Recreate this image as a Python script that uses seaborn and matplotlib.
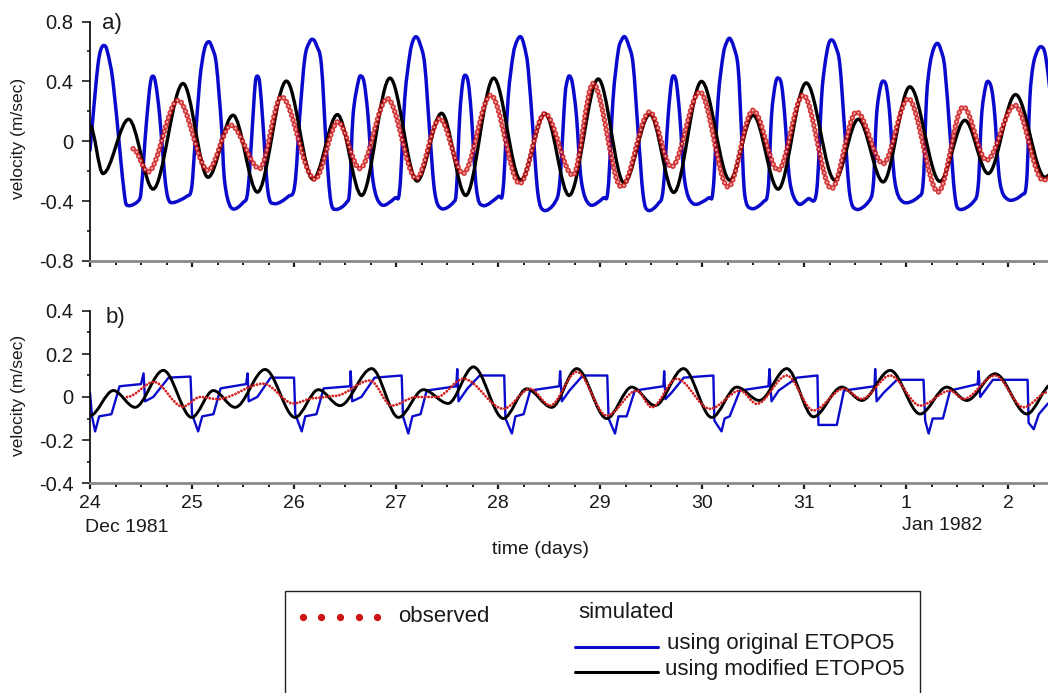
import numpy as np
import matplotlib
matplotlib.use('Agg')
import matplotlib.pyplot as plt
import matplotlib.transforms as mtransforms
from matplotlib.lines import Line2D
from matplotlib.patches import PathPatch, Rectangle
from matplotlib.path import Path
from matplotlib.ticker import MultipleLocator
import seaborn as sns

# time is in days after 24 Dec 1981 00:00
day_ticks = [0, 1, 2, 3, 4, 5, 6, 7, 8, 9]
day_labels = ['24', '25', '26', '27', '28', '29', '30', '31', '1', '2']
ya_ticks = [-0.8, -0.4, 0, 0.4, 0.8]
ya_labels = ['-0.8', '-0.4', '0', '0.4', '0.8']
yb_ticks = [-0.4, -0.2, 0, 0.2, 0.4]
yb_labels = ['-0.4', '-0.2', '0', '0.2', '0.4']

# a) simulated, original ETOPO5 (read off the figure)
orig_a = [
    (0.00, -0.06), (0.046, 0.29), (0.078, 0.51), (0.105, 0.61), (0.137, 0.64), (0.17, 0.60),
    (0.225, 0.40), (0.291, -0.05), (0.340, -0.37), (0.373, -0.43), (0.471, -0.40), (0.503, -0.32),
    (0.55, 0.10), (0.59, 0.38), (0.618, 0.435), (0.645, 0.38), (0.683, 0.17), (0.732, -0.23),
    (0.765, -0.38), (0.814, -0.41), (0.944, -0.37), (0.994, -0.32), (1.026, -0.05), (1.075, 0.40),
    (1.12, 0.61), (1.163, 0.665), (1.20, 0.62), (1.239, 0.51), (1.288, 0.11), (1.320, -0.27),
    (1.386, -0.446), (1.500, -0.41), (1.549, -0.32), (1.598, 0.17), (1.62, 0.39), (1.641, 0.435),
    (1.665, 0.38), (1.696, 0.11), (1.745, -0.34), (1.810, -0.417), (1.941, -0.37), (2.007, -0.295),
    (2.056, 0.17), (2.105, 0.553), (2.15, 0.66), (2.186, 0.68), (2.22, 0.64), (2.268, 0.51),
    (2.317, -0.05), (2.36, -0.40), (2.415, -0.455), (2.513, -0.41), (2.546, -0.32), (2.578, 0.17),
    (2.63, 0.40), (2.660, 0.435), (2.69, 0.38), (2.725, 0.17), (2.775, -0.27), (2.856, -0.424),
    (2.987, -0.38), (3.036, -0.32), (3.085, 0.285), (3.134, 0.575), (3.165, 0.67), (3.199, 0.698),
    (3.235, 0.65), (3.281, 0.51), (3.330, 0.06), (3.379, -0.34), (3.444, -0.45), (3.559, -0.41),
    (3.592, -0.32), (3.624, 0.17), (3.655, 0.40), (3.683, 0.44), (3.71, 0.38), (3.739, 0.17),
    (3.788, -0.32), (3.853, -0.43), (4.000, -0.37), (4.049, -0.32), (4.098, 0.285), (4.147, 0.575),
    (4.185, 0.67), (4.222, 0.698), (4.255, 0.64), (4.294, 0.49), (4.343, 0.06), (4.392, -0.36),
    (4.451, -0.462), (4.556, -0.41), (4.605, -0.27), (4.654, 0.285), (4.68, 0.41), (4.703, 0.435),
    (4.73, 0.38), (4.768, 0.17), (4.817, -0.27), (4.899, -0.424), (5.029, -0.38), (5.078, -0.32),
    (5.127, 0.285), (5.177, 0.60), (5.21, 0.675), (5.242, 0.698), (5.28, 0.64), (5.324, 0.51),
    (5.373, 0.06), (5.422, -0.36), (5.471, -0.462), (5.569, -0.417), (5.618, -0.32), (5.667, 0.17),
    (5.70, 0.40), (5.726, 0.435), (5.75, 0.38), (5.781, 0.17), (5.830, -0.27), (5.912, -0.417),
    (6.059, -0.38), (6.108, -0.32), (6.157, 0.285), (6.206, 0.575), (6.24, 0.66), (6.271, 0.687),
    (6.31, 0.63), (6.353, 0.49), (6.386, 0.06), (6.418, -0.36), (6.484, -0.45), (6.598, -0.406),
    (6.647, -0.32), (6.680, 0.17), (6.72, 0.39), (6.752, 0.42), (6.78, 0.37), (6.810, 0.17),
    (6.860, -0.27), (6.941, -0.417), (7.039, -0.384), (7.121, -0.34), (7.170, 0.286), (7.203, 0.51),
    (7.24, 0.65), (7.275, 0.676), (7.31, 0.63), (7.350, 0.51), (7.399, 0.06), (7.448, -0.36),
    (7.513, -0.455), (7.628, -0.406), (7.677, -0.295), (7.709, 0.17), (7.75, 0.37), (7.784, 0.40),
    (7.81, 0.35), (7.840, 0.17), (7.889, -0.27), (7.971, -0.406), (8.118, -0.373), (8.167, -0.27),
    (8.199, 0.286), (8.232, 0.51), (8.27, 0.62), (8.307, 0.654), (8.34, 0.61), (8.379, 0.486),
    (8.428, 0.06), (8.477, -0.36), (8.526, -0.455), (8.657, -0.406), (8.706, -0.295), (8.739, 0.17),
    (8.78, 0.37), (8.810, 0.397), (8.84, 0.34), (8.869, 0.17), (8.918, -0.27), (9.000, -0.39),
    (9.131, -0.36), (9.180, -0.27), (9.212, 0.286), (9.245, 0.51), (9.29, 0.61), (9.327, 0.631),
    (9.36, 0.59), (9.392, 0.44), (9.43, 0.20),
]

# a) simulated, modified ETOPO5: turning points
mod_a = [
    (0.0, 0.107), (0.127, -0.216), (0.379, 0.147), (0.618, -0.32), (0.912, 0.386), (1.157, -0.241),
    (1.402, 0.174), (1.641, -0.34), (1.925, 0.402), (2.186, -0.254), (2.425, 0.178), (2.662, -0.362),
    (2.94, 0.422), (3.206, -0.266), (3.446, 0.187), (3.683, -0.362), (3.957, 0.422), (4.222, -0.26),
    (4.46, 0.185), (4.696, -0.362), (4.982, 0.416), (5.235, -0.278), (5.488, 0.18), (5.722, -0.342),
    (5.994, 0.40), (6.271, -0.26), (6.50, 0.174), (6.745, -0.32), (7.02, 0.39), (7.30, -0.26),
    (7.53, 0.147), (7.774, -0.272), (8.036, 0.364), (8.33, -0.268), (8.575, 0.14), (8.804, -0.216),
    (9.072, 0.312), (9.36, -0.24), (9.45, -0.2),
]

# a) observed: turning points
obs_a = [
    (0.422, -0.05), (0.569, -0.205), (0.863, 0.274), (1.157, -0.194), (1.379, 0.107), (1.663, -0.183),
    (1.876, 0.297), (2.203, -0.254), (2.431, 0.13), (2.644, -0.183), (2.915, 0.285), (3.199, -0.25),
    (3.428, 0.152), (3.657, -0.216), (3.928, 0.308), (4.212, -0.283), (4.458, 0.185), (4.735, -0.228),
    (4.931, 0.386), (5.209, -0.306), (5.487, 0.196), (5.70, -0.172), (5.977, 0.33), (6.255, -0.306),
    (6.50, 0.207), (6.745, -0.194), (6.99, 0.308), (7.268, -0.317), (7.513, 0.196), (7.774, -0.15),
    (8.02, 0.285), (8.314, -0.339), (8.559, 0.23), (8.788, -0.127), (9.065, 0.241), (9.343, -0.261),
    (9.42, -0.24),
]

# b) simulated, original ETOPO5
orig_b = [
    (0.0, 0.02), (0.02, -0.09), (0.05, -0.16), (0.09, -0.09), (0.21, -0.08), (0.29, 0.05),
    (0.50, 0.06), (0.525, 0.11), (0.54, -0.02), (0.62, 0.0), (0.77, 0.09), (0.985, 0.095),
    (1.0, -0.08), (1.06, -0.16), (1.10, -0.09), (1.21, -0.08), (1.28, 0.04), (1.53, 0.06),
    (1.545, 0.11), (1.555, -0.02), (1.64, 0.0), (1.77, 0.09), (2.0, 0.09), (2.012, -0.08),
    (2.075, -0.16), (2.11, -0.09), (2.22, -0.08), (2.29, 0.04), (2.55, 0.05), (2.555, 0.12),
    (2.57, -0.02), (2.66, 0.0), (2.79, 0.09), (3.055, 0.1), (3.068, -0.09), (3.12, -0.17),
    (3.16, -0.09), (3.24, -0.08), (3.30, 0.03), (3.59, 0.05), (3.60, 0.13), (3.612, -0.02),
    (3.70, 0.04), (3.82, 0.1), (4.06, 0.1), (4.072, -0.1), (4.135, -0.17), (4.17, -0.09),
    (4.25, -0.08), (4.315, 0.03), (4.60, 0.05), (4.608, 0.12), (4.625, -0.02), (4.70, 0.03),
    (4.83, 0.1), (5.07, 0.1), (5.083, -0.1), (5.146, -0.17), (5.18, -0.09), (5.26, -0.09),
    (5.34, 0.03), (5.62, 0.05), (5.628, 0.12), (5.64, -0.01), (5.70, 0.02), (5.82, 0.09),
    (6.11, 0.1), (6.12, -0.11), (6.19, -0.16), (6.22, -0.10), (6.27, -0.09), (6.37, 0.03),
    (6.65, 0.05), (6.66, 0.13), (6.68, -0.02), (6.75, 0.03), (6.93, 0.09), (7.13, 0.1),
    (7.14, -0.13), (7.32, -0.13), (7.39, 0.03), (7.69, 0.05), (7.696, 0.13), (7.71, -0.02),
    (7.78, 0.02), (7.91, 0.08), (8.17, 0.08), (8.186, -0.11), (8.22, -0.17), (8.26, -0.10),
    (8.36, -0.10), (8.43, 0.03), (8.70, 0.06), (8.71, 0.12), (8.725, 0.0), (8.85, 0.08),
    (9.19, 0.08), (9.20, -0.12), (9.25, -0.15), (9.30, -0.08), (9.39, -0.03),
]

# b) simulated, modified ETOPO5: turning points
mod_b = [
    (0.0, -0.087), (0.229, 0.03), (0.441, -0.048), (0.719, 0.124), (0.997, -0.095), (1.209, 0.03),
    (1.422, -0.048), (1.716, 0.128), (2.010, -0.095), (2.239, 0.034), (2.45, -0.04), (2.761, 0.132),
    (3.023, -0.095), (3.268, 0.034), (3.51, -0.03), (3.758, 0.14), (4.052, -0.1), (4.281, 0.038),
    (4.526, -0.048), (4.771, 0.132), (5.065, -0.1), (5.31, 0.046), (5.539, -0.04), (5.817, 0.132),
    (6.094, -0.095), (6.34, 0.046), (6.56, -0.016), (6.83, 0.132), (7.091, -0.092), (7.369, 0.046),
    (7.565, -0.016), (7.843, 0.124), (8.137, -0.079), (8.398, 0.046), (8.594, -0.016), (8.872, 0.108),
    (9.183, -0.079), (9.43, 0.06),
]

# b) observed: turning points
obs_b = [
    (0.363, 0.0), (0.627, 0.07), (0.908, -0.045), (1.08, 0.0), (1.25, -0.01), (1.699, 0.062),
    (1.993, -0.03), (2.2, -0.005), (2.40, 0.005), (2.745, 0.077), (2.957, -0.04), (3.2, 0.0),
    (3.40, 0.0), (3.66, 0.085), (4.052, -0.055), (4.314, 0.038), (4.51, -0.04), (4.771, 0.117),
    (5.065, -0.087), (5.36, 0.03), (5.506, -0.048), (5.75, 0.085), (6.078, -0.055), (6.372, 0.03),
    (6.536, -0.032), (6.83, 0.1), (7.091, -0.063), (7.385, 0.038), (7.565, -0.009), (7.843, 0.1),
    (8.137, -0.04), (8.431, 0.03), (8.562, -0.009), (8.872, 0.1), (9.15, -0.048), (9.39, 0.023),
]

BLUE = '#0a0acc'
RED = '#cc1414'
TXT = '#1a1a1a'
W, H = 1048, 693

sns.set_style('ticks')
plt.rcParams['font.family'] = ['Liberation Sans', 'DejaVu Sans']
plt.rcParams['axes.unicode_minus'] = False
plt.rcParams['lines.scale_dashes'] = False


def fx(x):
    return x / W


def fy(y):
    return 1 - y / H


def wave_path(pts):
    # smooth curve through the turning points (flat at each turning point)
    verts = [pts[0]]
    codes = [Path.MOVETO]
    for (t0, v0), (t1, v1) in zip(pts[:-1], pts[1:]):
        h = (t1 - t0) / 3
        verts += [(t0 + h, v0), (t1 - h, v1), (t1, v1)]
        codes += [Path.CURVE4] * 3
    return Path(verts, codes)


def spline_path(pts):
    # rounded curve through every read point (Catmull-Rom style control points)
    p = np.asarray(pts, dtype=float)
    ext = np.vstack([p[0], p, p[-1]])
    verts = [tuple(p[0])]
    codes = [Path.MOVETO]
    for i in range(len(p) - 1):
        p0, p1, p2, p3 = ext[i], ext[i + 1], ext[i + 2], ext[i + 3]
        verts += [tuple(p1 + (p2 - p0) / 6), tuple(p2 - (p3 - p1) / 6), tuple(p2)]
        codes += [Path.CURVE4] * 3
    return Path(verts, codes)


def draw_line(ax, pts, color, lw, z):
    t, v = zip(*pts)
    sns.lineplot(x=list(t), y=list(v), ax=ax, color=color, linewidth=lw,
                 sort=False, estimator=None, zorder=z)


def draw_path(ax, path, color, lw, z):
    ax.add_patch(PathPatch(path, fill=False, edgecolor=color, linewidth=lw,
                           capstyle='round', joinstyle='round', zorder=z))


def draw_dots(ax, pts, color, lw, gap, z, alpha=1.0):
    ax.add_patch(PathPatch(wave_path(pts), fill=False, edgecolor=color, linewidth=lw,
                           linestyle=(0, (0.01, gap)), capstyle='round', alpha=alpha, zorder=z))


def style_axes(ax, yticks, ylabels, ylim, yminor, show_x):
    ax.set_xlim(0, 9.39)
    ax.set_ylim(*ylim)
    for s in ['top', 'right']:
        ax.spines[s].set_visible(False)
    ax.spines['left'].set_color('black')
    ax.spines['left'].set_linewidth(1.2)
    ax.spines['bottom'].set_color('#8a8a8a')
    ax.spines['bottom'].set_linewidth(2.0)
    ax.set_xticks(day_ticks)
    ax.set_xticklabels(day_labels if show_x else [])
    ax.xaxis.set_minor_locator(MultipleLocator(0.25))
    ax.set_yticks(yticks)
    ax.set_yticklabels(ylabels)
    ax.yaxis.set_minor_locator(MultipleLocator(yminor))
    ax.tick_params(axis='x', which='major', direction='out', length=4, width=1.6,
                   colors=TXT, labelsize=14, pad=5)
    ax.tick_params(axis='x', which='minor', direction='out', length=3, width=1.4, color=TXT)
    ax.tick_params(axis='y', which='major', direction='out', length=6, width=1.2,
                   colors=TXT, labelsize=14.5, pad=6)
    ax.tick_params(axis='y', which='minor', direction='out', length=2.5, width=1.2, color=TXT)
    ax.set_xlabel('')
    ax.set_ylabel('')
    ax.set_facecolor('white')


fig = plt.figure(figsize=(10.48, 6.93), dpi=100)
fig.patch.set_facecolor('white')
ax_a = fig.add_axes([fx(90), fy(261), 1 - fx(90), fy(21.5) - fy(261)])
ax_b = fig.add_axes([fx(90), fy(483), 1 - fx(90), fy(311) - fy(483)])

# panel a
draw_path(ax_a, spline_path(orig_a), BLUE, 2.5, 2)
draw_path(ax_a, wave_path(mod_a), 'black', 2.4, 3)
draw_dots(ax_a, obs_a, RED, 4.0, 3.5, 4, alpha=0.85)
draw_dots(ax_a, obs_a, '#f2c4c4', 1.6, 3.5, 5, alpha=0.9)
style_axes(ax_a, ya_ticks, ya_labels, (-0.8, 0.8), 0.2, False)

# panel b
draw_line(ax_b, orig_b, BLUE, 1.7, 2)
draw_path(ax_b, wave_path(mod_b), 'black', 2.1, 3)
draw_dots(ax_b, obs_b, '#d42020', 2.1, 2.4, 4)
style_axes(ax_b, yb_ticks, yb_labels, (-0.4, 0.4), 0.1, True)

# panel labels, axis titles
fig.text(fx(102), fy(24), 'a)', fontsize=16, color=TXT, ha='left', va='center')
fig.text(fx(106), fy(317), 'b)', fontsize=16, color=TXT, ha='left', va='center')
for yc in [138, 395]:
    fig.text(fx(19), fy(yc), 'velocity (m/sec)', fontsize=12.5, color=TXT,
             rotation=90, ha='center', va='center')
fig.text(fx(540), fy(550), 'time (days)', fontsize=14, color=TXT, ha='center', va='center')
trans = mtransforms.blended_transform_factory(ax_b.transData, fig.transFigure)
ax_b.text(-0.05, fy(527), 'Dec 1981', transform=trans, fontsize=14, color=TXT,
          ha='left', va='center')
ax_b.text(7.96, fy(525), 'Jan 1982', transform=trans, fontsize=14, color=TXT,
          ha='left', va='center')

# legend box
fig.add_artist(Rectangle((fx(285), fy(700)), fx(920) - fx(285), fy(591) - fy(700),
                         transform=fig.transFigure, fill=False, edgecolor='#222222',
                         linewidth=1.0))
fig.add_artist(Line2D(np.linspace(fx(303), fx(377), 5), [fy(617)] * 5, transform=fig.transFigure,
                      linestyle='none', marker='o', markersize=4.2, color=RED))
fig.text(fx(398), fy(617), 'observed', fontsize=16, color=TXT, ha='left', va='center')
fig.text(fx(578), fy(612), 'simulated', fontsize=16, color=TXT, ha='left', va='center')
fig.add_artist(Line2D([fx(575), fx(658)], [fy(647), fy(647)], transform=fig.transFigure,
                      color=BLUE, linewidth=2.2))
fig.text(fx(667), fy(644), 'using original ETOPO5', fontsize=16, color=TXT,
         ha='left', va='center')
fig.add_artist(Line2D([fx(575), fx(658)], [fy(672), fy(672)], transform=fig.transFigure,
                      color='black', linewidth=2.2))
fig.text(fx(665), fy(670), 'using modified ETOPO5', fontsize=16, color=TXT,
         ha='left', va='center')

fig.savefig('out.png', dpi=100, facecolor='white')
